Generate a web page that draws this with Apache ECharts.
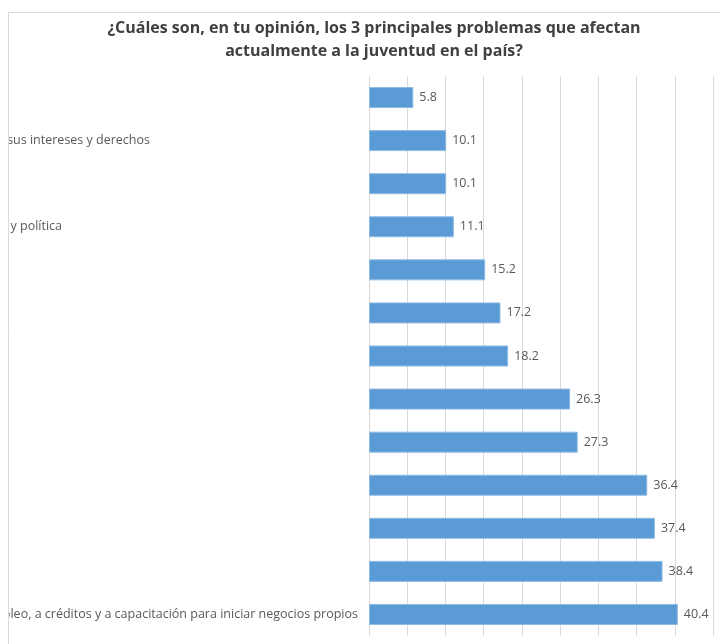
<!DOCTYPE html>
<html>
<head>
<meta charset="utf-8">
<script src="https://cdn.jsdelivr.net/npm/echarts@6/dist/echarts.min.js"></script>
<style>
  html, body { margin: 0; padding: 0; background: #fff; }
  #chart { width: 720px; height: 644px; }
</style>
</head>
<body>
<div id="chart"></div>
<script>
var dom = document.getElementById('chart');
var myChart = echarts.init(dom);

// categories, top to bottom (most labels fall outside the visible area)
var categories = [
    '',
    'Falta de espacios de participación para la defensa de sus intereses y derechos',
    '',
    'Desinterés de los jóvenes por la participación ciudadana y política',
    '',
    '',
    '',
    '',
    '',
    '',
    '',
    '',
    'Falta de acceso al empleo, a créditos y a capacitación para iniciar negocios propios'
];
// right padding of each label, as it sits in the picture
var labelPads = [0, 208, 0, 296, 0, 0, 0, 0, 0, 0, 0, 0, 0];
var values = [5.8, 10.1, 10.1, 11.1, 15.2, 17.2, 18.2, 26.3, 27.3, 36.4, 37.4, 38.4, 40.4];

var catData = categories.map(function (c, i) {
    return { value: c, textStyle: { padding: [0, labelPads[i], 0, 0] } };
});

var option = {
    backgroundColor: '#fff',
    textStyle: { fontFamily: 'Open Sans' },
    title: {
        text: '¿Cuáles son, en tu opinión, los 3 principales problemas que afectan\nactualmente a la juventud en el país?',
        left: 369,
        top: 12,
        textAlign: 'center',
        textStyle: {
            fontFamily: 'Open Sans',
            fontSize: 16,
            fontWeight: 'bold',
            color: '#404040',
            lineHeight: 23
        }
    },
    grid: { left: 369, right: 7, top: 76, bottom: 8, containLabel: false, outerBoundsMode: 'none' },
    xAxis: {
        type: 'value',
        min: 0,
        max: 45,
        interval: 5,
        axisLabel: { show: false },
        axisTick: { show: false },
        axisLine: { show: false },
        splitLine: { lineStyle: { color: '#d9d9d9', width: 1 } }
    },
    yAxis: {
        type: 'category',
        inverse: true,
        data: catData,
        axisLine: { show: false },
        axisTick: { show: false },
        axisLabel: {
            margin: 11,
            color: '#595959',
            fontSize: 12.5,
            fontFamily: 'Open Sans'
        }
    },
    series: [{
        type: 'bar',
        data: values,
        barWidth: 21,
        itemStyle: { color: '#5b9bd5', borderColor: '#8fbbe3', borderWidth: 1 },
        label: {
            show: true,
            position: 'right',
            distance: 6,
            color: '#595959',
            fontSize: 12.5,
            fontFamily: 'Open Sans',
            formatter: function (p) { return p.value.toFixed(1); }
        }
    }],
    graphic: [
        { type: 'rect', z: 100, shape: { x: 0, y: 0, width: 8, height: 644 }, style: { fill: '#fff' } },
        { type: 'line', z: 101, shape: { x1: 8.5, y1: 12.5, x2: 720, y2: 12.5 }, style: { stroke: '#d9d9d9', lineWidth: 1 } },
        { type: 'line', z: 101, shape: { x1: 8.5, y1: 12.5, x2: 8.5, y2: 644 }, style: { stroke: '#d9d9d9', lineWidth: 1 } }
    ]
};

myChart.setOption(option, true);
</script>
</body>
</html>
